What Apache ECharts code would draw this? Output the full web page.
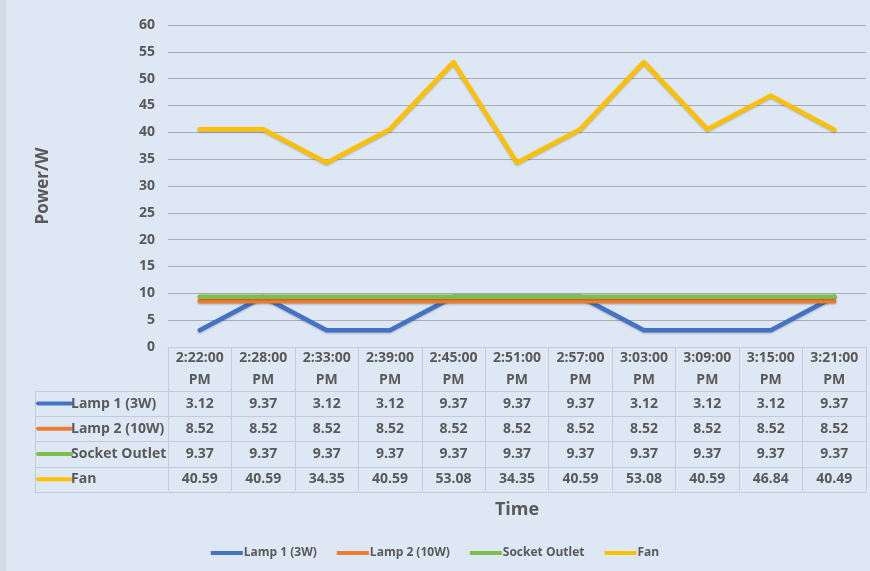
<!DOCTYPE html>
<html>
<head>
<meta charset="utf-8">
<script src="https://cdn.jsdelivr.net/npm/echarts@6/dist/echarts.min.js"></script>
<style>
  html, body { margin: 0; padding: 0; background: #dee8f4; }
  #chart { width: 870px; height: 571px; }
</style>
</head>
<body>
<div id="chart"></div>
<script>
// Sampling times (x categories)
const times = ['2:22:00 PM', '2:28:00 PM', '2:33:00 PM', '2:39:00 PM', '2:45:00 PM', '2:51:00 PM',
               '2:57:00 PM', '3:03:00 PM', '3:09:00 PM', '3:15:00 PM', '3:21:00 PM'];

// Power readings per load, in watts
const lamp1  = [3.12, 9.37, 3.12, 3.12, 9.37, 9.37, 9.37, 3.12, 3.12, 3.12, 9.37];
const lamp2  = [8.52, 8.52, 8.52, 8.52, 8.52, 8.52, 8.52, 8.52, 8.52, 8.52, 8.52];
const socket = [9.37, 9.37, 9.37, 9.37, 9.37, 9.37, 9.37, 9.37, 9.37, 9.37, 9.37];
const fan    = [40.59, 40.59, 34.35, 40.59, 53.08, 34.35, 40.59, 53.08, 40.59, 46.84, 40.49];

const seriesNames = ['Lamp 1 (3W)', 'Lamp 2 (10W)', 'Socket Outlet', 'Fan'];
const seriesData  = [lamp1, lamp2, socket, fan];
const colors = ['#4472c4', '#ed7d31', '#7dbf4a', '#ffc000'];

// Value-axis ticks
const yMin = 0, yMax = 60, yStep = 5;

const FONT = '"Open Sans", "Noto Sans", sans-serif';
const TXT = '#595959';
const GRID_LEFT = 168, GRID_RIGHT = 4, GRID_TOP = 25, GRID_BOTTOM = 224;
const HEAD_LH = 22, ROW_LH = 25.2;
const TABLE_LEFT = 35;

const chart = echarts.init(document.getElementById('chart'), null, { renderer: 'canvas' });

// Each category label is a column of the data table: time header plus one value per series
function columnLabel(value, idx) {
  const parts = value.split(' ');
  let s = '{h|' + parts[0] + '}\n{h|' + parts[1] + '}';
  seriesData.forEach(arr => { s += '\n{v|' + arr[idx].toFixed(2) + '}'; });
  return s;
}

const option = {
  backgroundColor: '#dee8f4',
  animation: false,
  color: colors,
  textStyle: { fontFamily: FONT },
  grid: { left: GRID_LEFT, right: GRID_RIGHT, top: GRID_TOP, bottom: GRID_BOTTOM },
  legend: {
    bottom: 7,
    left: 'center',
    itemWidth: 32,
    itemHeight: 4,
    itemGap: 20,
    icon: 'rect',
    textStyle: { color: TXT, fontSize: 12, fontWeight: 'bold', fontFamily: FONT, padding: [0, 0, 0, -4] },
    data: seriesNames
  },
  xAxis: {
    type: 'category',
    data: times,
    boundaryGap: true,
    name: 'Time',
    nameLocation: 'middle',
    nameGap: 154,
    nameTextStyle: { color: TXT, fontSize: 18, fontWeight: 'bold', fontFamily: FONT },
    axisLine: { show: true, lineStyle: { color: '#c3ccd6', width: 1 } },
    axisTick: {
      show: true, inside: false, length: 144, interval: 0,
      lineStyle: { color: '#c3ccd6', width: 1 }
    },
    axisLabel: {
      interval: 0,
      margin: 0,
      color: TXT,
      formatter: columnLabel,
      rich: {
        h: { fontSize: 14, fontWeight: 'bold', color: TXT, lineHeight: HEAD_LH, fontFamily: FONT, align: 'center' },
        v: { fontSize: 14, fontWeight: 'bold', color: TXT, lineHeight: ROW_LH, fontFamily: FONT, align: 'center' }
      }
    },
    splitLine: { show: false }
  },
  yAxis: {
    type: 'value',
    min: yMin,
    max: yMax,
    interval: yStep,
    name: 'Power/W',
    nameLocation: 'middle',
    nameGap: 116,
    nameTextStyle: { color: TXT, fontSize: 17, fontWeight: 'bold', fontFamily: FONT },
    axisLine: { show: false },
    axisTick: { show: false },
    axisLabel: { color: TXT, fontSize: 14, fontWeight: 'bold', margin: 13, fontFamily: FONT },
    splitLine: { lineStyle: { color: '#a9adb3', width: 1 } }
  },
  series: seriesNames.map((name, i) => ({
    name: name,
    type: 'line',
    data: seriesData[i],
    symbol: 'none',
    z: 2 + i,
    lineStyle: {
      width: 4.5,
      color: colors[i],
      cap: 'round',
      join: 'round',
      shadowColor: 'rgba(0,0,0,0.25)',
      shadowBlur: 2,
      shadowOffsetY: 1
    }
  }))
};

chart.setOption(option);

// Table rules and row headers, positioned from the axis scale
function drawTable() {
  const axisY = chart.convertToPixel({ yAxisIndex: 0 }, yMin);
  const firstX = chart.convertToPixel({ xAxisIndex: 0 }, 0);
  const lastX = chart.convertToPixel({ xAxisIndex: 0 }, times.length - 1);
  const half = (lastX - firstX) / (times.length - 1) / 2;
  const tableRight = lastX + half;
  const rowTop = axisY + 2 * HEAD_LH;
  const elements = [];
  // left grey edge
  elements.push({ type: 'rect', shape: { x: 0, y: 0, width: 6, height: 571 }, style: { fill: '#d3dbe4' }, silent: true });
  for (let r = 0; r <= seriesNames.length; r++) {
    const y = Math.round(rowTop + r * ROW_LH) + 0.5;
    elements.push({
      type: 'line', silent: true,
      shape: { x1: TABLE_LEFT, y1: y, x2: tableRight, y2: y },
      style: { stroke: '#c3ccd6', lineWidth: 1 }
    });
  }
  const bottomY = Math.round(rowTop + seriesNames.length * ROW_LH) + 0.5;
  elements.push({
    type: 'line', silent: true,
    shape: { x1: TABLE_LEFT + 0.5, y1: Math.round(rowTop) + 0.5, x2: TABLE_LEFT + 0.5, y2: bottomY },
    style: { stroke: '#c3ccd6', lineWidth: 1 }
  });
  seriesNames.forEach((name, i) => {
    const cy = rowTop + (i + 0.5) * ROW_LH;
    elements.push({
      type: 'line', silent: true,
      shape: { x1: TABLE_LEFT + 3, y1: cy, x2: TABLE_LEFT + 36, y2: cy },
      style: { stroke: colors[i], lineWidth: 4, lineCap: 'round' }
    });
    elements.push({
      type: 'text', silent: true,
      x: TABLE_LEFT + 36, y: cy,
      style: {
        text: name, fill: TXT, font: 'bold 14px ' + FONT,
        textAlign: 'left', textVerticalAlign: 'middle'
      }
    });
  });
  chart.setOption({ graphic: { elements: elements } });
}
drawTable();
</script>
</body>
</html>
